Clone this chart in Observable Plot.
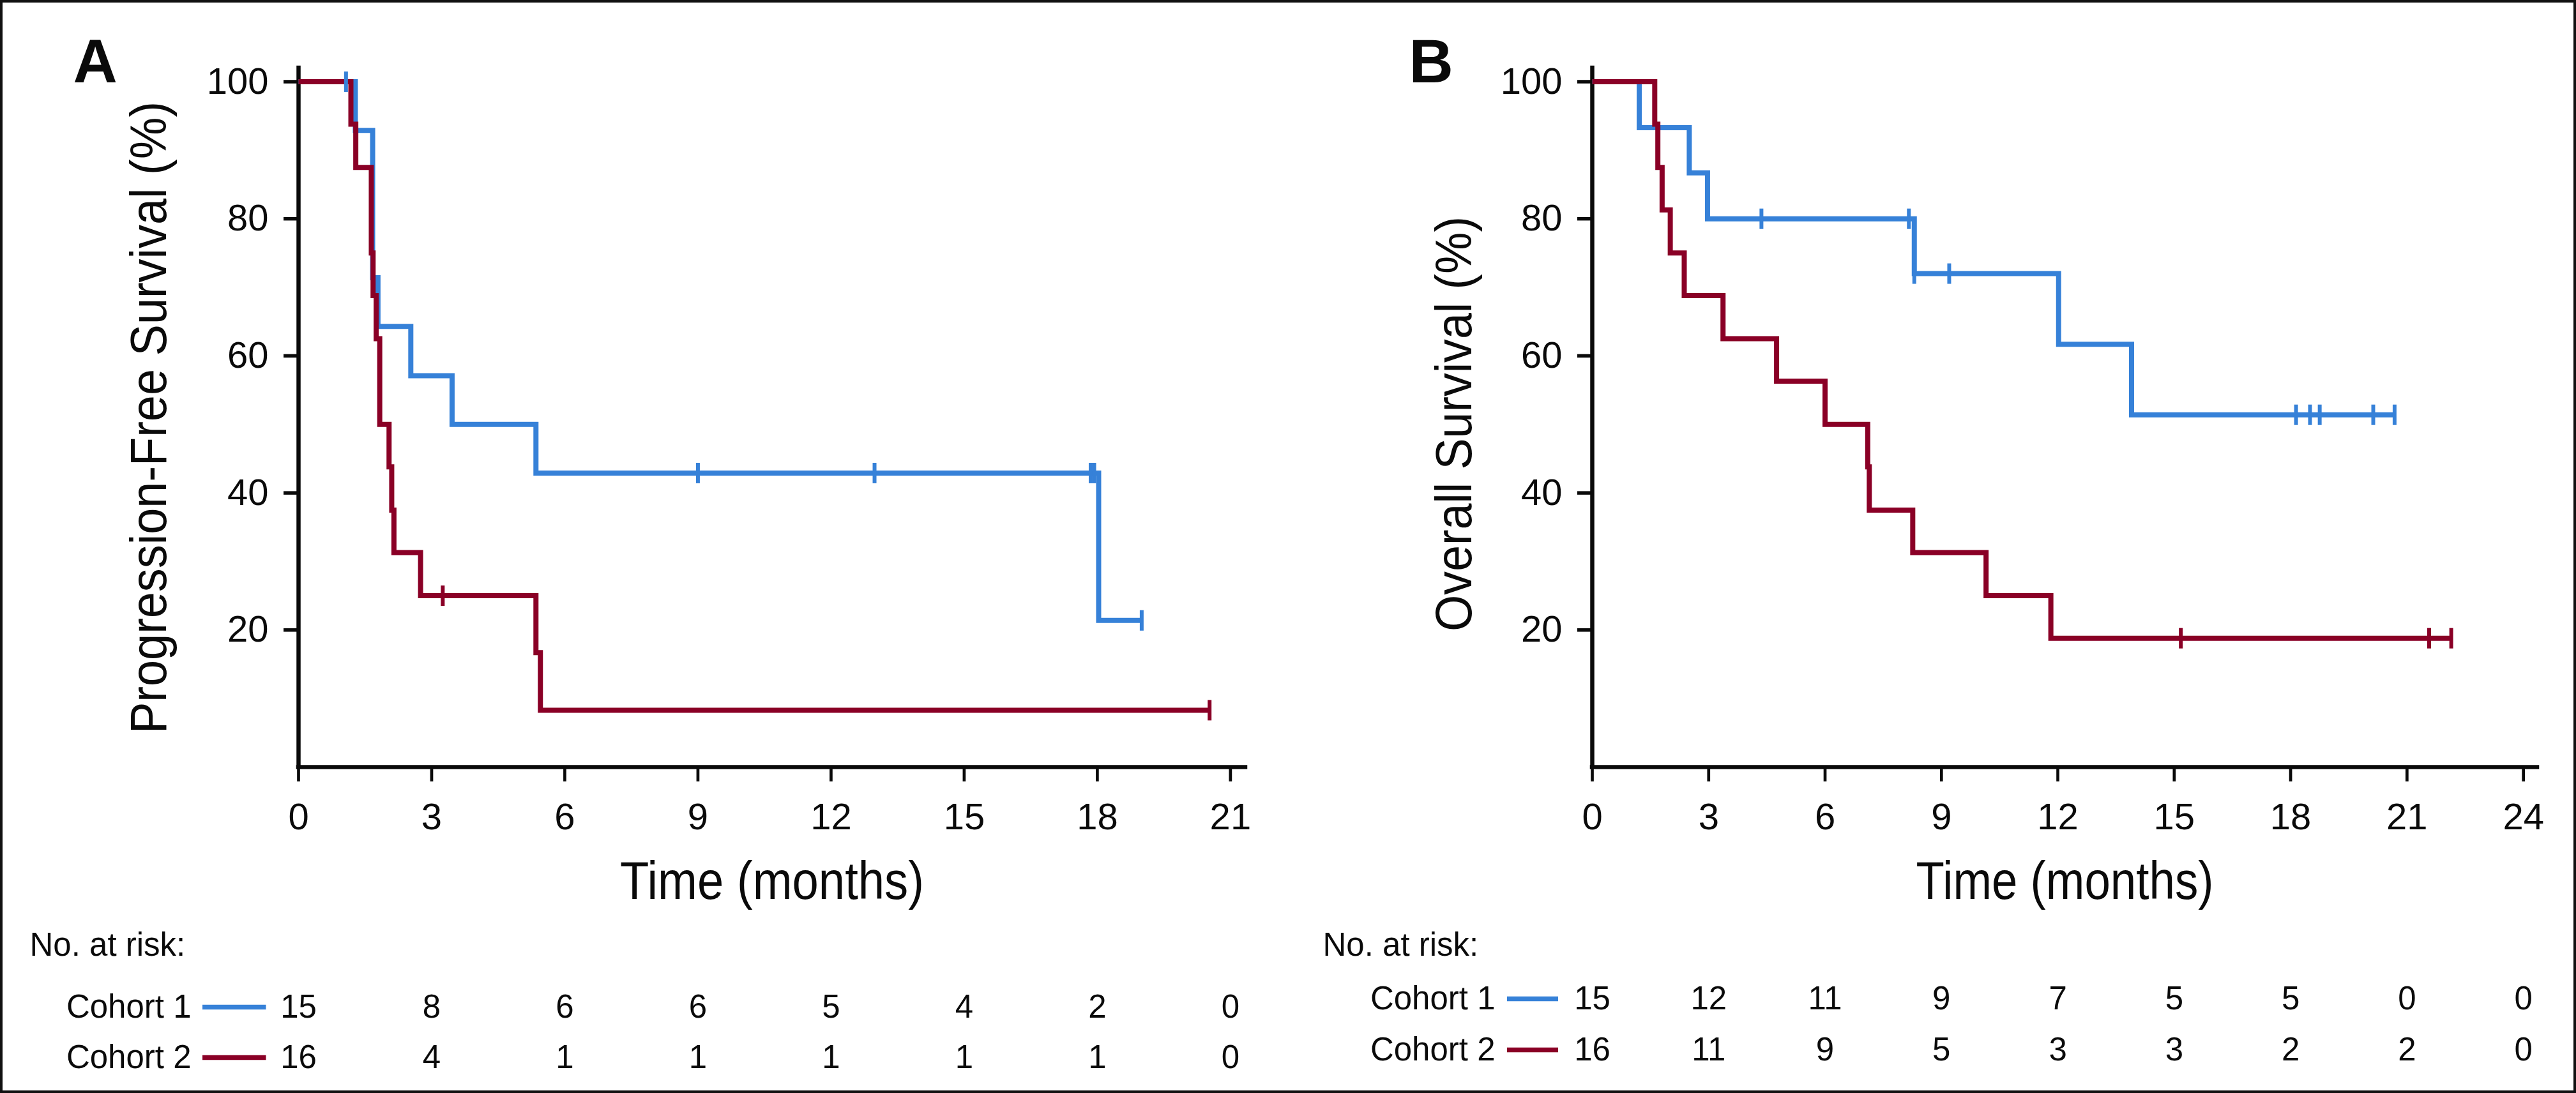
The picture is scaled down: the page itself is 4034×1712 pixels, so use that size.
<!DOCTYPE html>
<html>
<head>
<meta charset="utf-8">
<script src="https://cdn.jsdelivr.net/npm/d3@7"></script>
<script src="https://cdn.jsdelivr.net/npm/@observablehq/plot@0.6"></script>
<style>
  html, body { margin: 0; padding: 0; background: #fff; }
  #fig { position: relative; width: 4034px; height: 1712px; background: #fff; overflow: hidden; }
  .slot { position: absolute; }
  .slot svg { display: block; max-width: none; }
  #frame { position: absolute; left: 0; top: 0; width: 4034px; height: 1712px; box-sizing: border-box; border: 4px solid #111; pointer-events: none; }
</style>
</head>
<body>
<div id="fig">
  <div class="slot" id="a-main" style="left:0;top:0"></div>
  <div class="slot" id="a-risk" style="left:0;top:1430px"></div>
  <div class="slot" id="b-main" style="left:2017px;top:0"></div>
  <div class="slot" id="b-risk" style="left:2017px;top:1430px"></div>
  <div id="frame"></div>
</div>
<script>
// ---------------- data ----------------
const cohorts = ["Cohort 1", "Cohort 2"];
const yTicks = [20, 40, 60, 80, 100];

// Panel A: progression-free survival (step curves, % surviving)
const pfsTimeC1 = [0, 1.28, 1.67, 1.79, 2.53, 3.46, 5.35, 18.03, 19.0];
const pfsSurvC1 = [100, 92.9, 71.4, 64.3, 57.1, 50.0, 42.9, 21.4, 21.4];
const pfsCensTimeC1 = [1.07, 9.0, 12.98, 17.85, 17.93, 19.0];
const pfsCensSurvC1 = [100, 42.9, 42.9, 42.9, 42.9, 21.4];
const pfsTimeC2 = [0, 1.18, 1.29, 1.64, 1.68, 1.75, 1.83, 2.04, 2.10, 2.15, 2.75, 5.35, 5.45, 20.53];
const pfsSurvC2 = [100, 93.8, 87.5, 75.0, 68.8, 62.5, 50.0, 43.8, 37.5, 31.3, 25.0, 16.7, 8.3, 8.3];
const pfsCensTimeC2 = [3.25, 20.53];
const pfsCensSurvC2 = [25.0, 8.3];

// Panel B: overall survival
const osTimeC1 = [0, 1.21, 2.50, 2.97, 8.30, 12.02, 13.90, 20.68];
const osSurvC1 = [100, 93.3, 86.7, 80.0, 72.0, 61.7, 51.4, 51.4];
const osCensTimeC1 = [4.36, 8.16, 8.30, 9.20, 18.14, 18.50, 18.75, 20.13, 20.68];
const osCensSurvC1 = [80.0, 80.0, 72.0, 72.0, 51.4, 51.4, 51.4, 51.4, 51.4];
const osTimeC2 = [0, 1.61, 1.69, 1.80, 2.01, 2.37, 3.37, 4.75, 6.00, 7.10, 7.14, 8.26, 10.15, 11.82, 22.14];
const osSurvC2 = [100, 93.8, 87.5, 81.3, 75.0, 68.8, 62.5, 56.3, 50.0, 43.8, 37.5, 31.3, 25.0, 18.8, 18.8];
const osCensTimeC2 = [15.17, 21.57, 22.14];
const osCensSurvC2 = [18.8, 18.8, 18.8];

// Number at risk tables
const riskMonthsA = [0, 3, 6, 9, 12, 15, 18, 21];
const riskA_C1 = [15, 8, 6, 6, 5, 4, 2, 0];
const riskA_C2 = [16, 4, 1, 1, 1, 1, 1, 0];
const riskMonthsB = [0, 3, 6, 9, 12, 15, 18, 21, 24];
const riskB_C1 = [15, 12, 11, 9, 7, 5, 5, 0, 0];
const riskB_C2 = [16, 11, 9, 5, 3, 3, 2, 2, 0];

// ---------------- styling ----------------
const FONT = "'Liberation Sans', Arial, Helvetica, sans-serif";
const BLUE = "#3681D8";
const RED = "#8A0026";
const INK = "#0a0a0a";

const vbar = {
  draw(ctx, size) {
    const h = Math.sqrt(size / Math.PI);
    ctx.moveTo(0, -h);
    ctx.lineTo(0, h);
  }
};

const zipSeries = (ts, ss) => ts.map((t, i) => ({t, s: ss[i]}));

function curveMarks(time, surv, censT, censS, color) {
  return {
    line: Plot.line(zipSeries(time, surv), {
      x: "t", y: "s", curve: "step-after", stroke: color, strokeWidth: 8,
      strokeLinejoin: "miter", strokeLinecap: "butt", strokeMiterlimit: 4
    }),
    cens: Plot.dot(zipSeries(censT, censS), {
      x: "t", y: "s", symbol: vbar, r: 16, stroke: color, strokeWidth: 6, fill: "none"
    })
  };
}

function condense(svg, text, length) {
  svg.querySelectorAll("text").forEach(t => {
    if (t.textContent === text) {
      t.setAttribute("textLength", length);
      t.setAttribute("lengthAdjust", "spacingAndGlyphs");
    }
  });
}

function mainPlot(cfg) {
  const c1 = curveMarks(cfg.c1[0], cfg.c1[1], cfg.c1[2], cfg.c1[3], BLUE);
  const c2 = curveMarks(cfg.c2[0], cfg.c2[1], cfg.c2[2], cfg.c2[3], RED);
  return Plot.plot({
    width: 2017, height: 1430,
    marginLeft: cfg.ml, marginRight: cfg.mr, marginTop: 106, marginBottom: 229,
    x: {domain: [0, cfg.xmax]},
    y: {domain: [0, 102]},
    style: {fontFamily: FONT, background: "white", overflow: "visible", color: INK},
    marks: [
      Plot.axisX({ticks: cfg.xTicks, tickSize: 23, tickPadding: 33, fontSize: 58, strokeWidth: 4.7, label: null, tickFormat: d => String(d)}),
      Plot.axisY({ticks: yTicks, tickSize: 23, tickPadding: 24, fontSize: 58, strokeWidth: 5.5, label: null, tickFormat: d => String(d)}),
      Plot.ruleY([0], {strokeWidth: 6.5, strokeLinecap: "square", stroke: INK}),
      Plot.ruleX([0], {strokeWidth: 6.5, strokeLinecap: "square", stroke: INK}),
      c1.line, c2.line, c1.cens, c2.cens,
      Plot.text([cfg.ylabel], {frameAnchor: "left", rotate: -90, textAnchor: "middle", lineAnchor: "middle", dx: cfg.ylDx, dy: cfg.ylDy, fontSize: 80, fill: INK}),
      Plot.text(["Time (months)"], {frameAnchor: "bottom", textAnchor: "middle", lineAnchor: "middle", dy: 180, fontSize: 84, fill: INK}),
      Plot.text([cfg.letter], {frameAnchor: "top-left", textAnchor: "start", lineAnchor: "middle", dx: cfg.letterDx, dy: -8.5, fontSize: 96, fontWeight: "bold", fill: INK})
    ]
  });
}

function riskPlot(cfg) {
  const rows = [];
  cfg.months.forEach((m, i) => {
    rows.push({month: m, cohort: cohorts[0], n: cfg.r1[i]});
    rows.push({month: m, cohort: cohorts[1], n: cfg.r2[i]});
  });
  return Plot.plot({
    width: 2017, height: 282,
    marginLeft: cfg.ml, marginRight: cfg.mr, marginTop: 0, marginBottom: 0,
    x: {domain: [0, cfg.xmax], axis: null},
    y: {type: "point", domain: cohorts, range: cfg.rowY, padding: 0},
    style: {fontFamily: FONT, background: "white", overflow: "visible", color: INK},
    marks: [
      Plot.axisY({tickSize: 0, tickPadding: cfg.labelPad, fontSize: 51, label: null}),
      Plot.ruleY([cohorts[0]], {stroke: BLUE, strokeWidth: 7.5, insetLeft: cfg.swL, insetRight: cfg.swR}),
      Plot.ruleY([cohorts[1]], {stroke: RED, strokeWidth: 7.5, insetLeft: cfg.swL, insetRight: cfg.swR}),
      Plot.text(rows, {x: "month", y: "cohort", text: "n", fontSize: 51, fill: INK, lineAnchor: "middle"}),
      Plot.text(["No. at risk:"], {frameAnchor: "top-left", textAnchor: "start", lineAnchor: "middle", dx: cfg.noDx, dy: 49.7, fontSize: 51, fill: INK})
    ]
  });
}

// ---------------- panel A ----------------
const aMain = mainPlot({
  ml: 467, mr: 67, xmax: 21.34, xTicks: riskMonthsA,
  c1: [pfsTimeC1, pfsSurvC1, pfsCensTimeC1, pfsCensSurvC1],
  c2: [pfsTimeC2, pfsSurvC2, pfsCensTimeC2, pfsCensSurvC2],
  ylabel: "Progression-Free Survival (%)", ylDx: -233.6, ylDy: 0,
  letter: "A", letterDx: -353
});
document.getElementById("a-main").appendChild(aMain);
condense(aMain, "Progression-Free Survival (%)", 990);
condense(aMain, "Time (months)", 476);

const aRisk = riskPlot({
  ml: 467, mr: 67, xmax: 21.34, months: riskMonthsA, r1: riskA_C1, r2: riskA_C2,
  rowY: [146.7, 225.7], labelPad: 168, swL: -150, swR: 1533.5, noDx: -421
});
document.getElementById("a-risk").appendChild(aRisk);

// ---------------- panel B ----------------
const bMain = mainPlot({
  ml: 476, mr: 61, xmax: 24.36, xTicks: riskMonthsB,
  c1: [osTimeC1, osSurvC1, osCensTimeC1, osCensSurvC1],
  c2: [osTimeC2, osSurvC2, osCensTimeC2, osCensSurvC2],
  ylabel: "Overall Survival (%)", ylDx: -215.6, ylDy: 10,
  letter: "B", letterDx: -287
});
document.getElementById("b-main").appendChild(bMain);
condense(bMain, "Overall Survival (%)", 650);
condense(bMain, "Time (months)", 466);

const bRisk = riskPlot({
  ml: 476, mr: 61, xmax: 24.36, months: riskMonthsB, r1: riskB_C1, r2: riskB_C2,
  rowY: [133.7, 213.7], labelPad: 152, swL: -133, swR: 1533, noDx: -422
});
document.getElementById("b-risk").appendChild(bRisk);
</script>
</body>
</html>
